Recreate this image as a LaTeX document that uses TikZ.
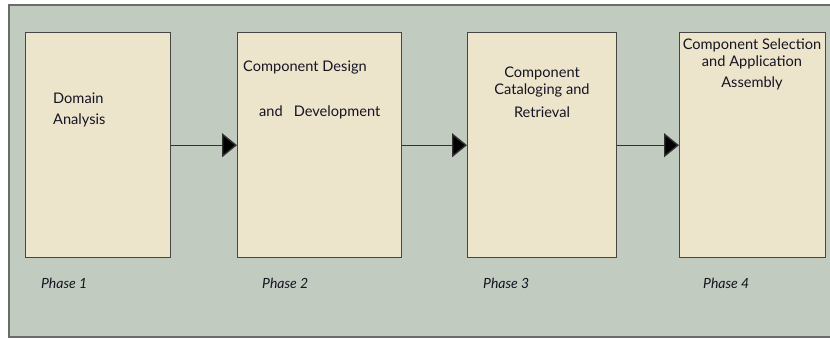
\documentclass[tikz,border=0pt]{standalone}
\usepackage{fontspec}
\setmainfont{Lato}
\usetikzlibrary{arrows.meta}
\definecolor{panel}{HTML}{C2CBC0}
\definecolor{boxfill}{HTML}{EDE4CC}
\definecolor{edge}{HTML}{464646}
\definecolor{ink}{HTML}{141422}
\tikzset{
  frame/.style={draw=edge!80, fill=panel, line width=1.8pt},
  phasebox/.style={draw=edge, fill=boxfill, line width=1.4pt, inner sep=0pt,
    minimum width=#1, minimum height=225pt, anchor=north west},
  flow/.style={draw=edge!70!black, line width=1.4pt,
    -{Triangle[length=15pt, width=24pt, fill=black]}},
  boxtext/.style={text=ink, inner sep=0pt, font=\fontsize{14.6}{16}\selectfont},
  phaselabel/.style={text=ink, inner sep=0pt, anchor=west,
    font=\fontsize{14}{16}\selectfont\itshape},
}
\begin{document}
\begin{tikzpicture}[x=1pt, y=-1pt]
\useasboundingbox (0,0) rectangle (830,340);
\fill[white] (0,0) rectangle (830,340);
\draw[frame] (9,5) rectangle (845,337);

% the four phase boxes
\node[phasebox=145pt] (b1) at (25,32) {};
\node[phasebox=164pt] (b2) at (237,32) {};
\node[phasebox=149pt] (b3) at (467,32) {};
\node[phasebox=146pt] (b4) at (679,32) {};

% connectors between consecutive phases
\draw[flow] (b1.east) -- (b2.west);
\draw[flow] (b2.east) -- (b3.west);
\draw[flow] (b3.east) -- (b4.west);

% box captions
\node[boxtext, anchor=west] (t1a) at (53,98) {Domain};
\node[boxtext, anchor=west] (t1b) at (53,120) {Analysis};

\node[boxtext, anchor=west] (t2a) at (243,68) {Component Design};
\node[boxtext, anchor=west] (t2b) at (259,112) {and\hspace{11pt}Development};

\node[boxtext] (t3a) at (542,73) {Component};
\node[boxtext] (t3b) at (542,90) {Cataloging and};
\node[boxtext] (t3c) at (542,112) {Retrieval};

\node[boxtext] (t4a) at (752,45) {Component Selection};
\node[boxtext] (t4b) at (752,62) {and Application};
\node[boxtext] (t4c) at (752,83) {Assembly};

% phase labels under the boxes
\node[phaselabel] (p1) at (41,283) {Phase 1};
\node[phaselabel] (p2) at (262,283) {Phase 2};
\node[phaselabel] (p3) at (483,283) {Phase 3};
\node[phaselabel] (p4) at (703,283) {Phase 4};
\end{tikzpicture}
\end{document}
